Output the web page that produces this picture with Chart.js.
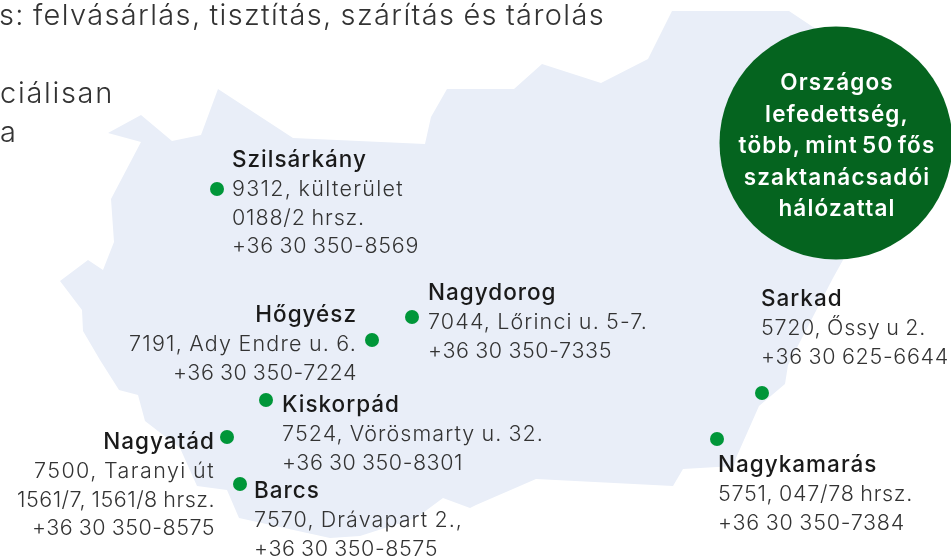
<!DOCTYPE html>
<html>
<head>
<meta charset="utf-8">
<title>Országos lefedettség</title>
<script src="https://cdn.jsdelivr.net/npm/chart.js@4"></script>
<style>
    html, body { margin: 0; padding: 0; background: #fff; overflow: hidden; }
    #map-chart { display: block; }
</style>
</head>
<body>
<canvas id="map-chart" width="951" height="558"></canvas>
<script>
// Country outline
const outlineX = [108, 141, 172, 201, 218, 293, 425, 431, 447, 514, 542, 601, 648, 672, 789, 822, 852, 852, 843, 833, 788, 785, 759, 736, 734, 683, 673, 536, 476, 470, 443, 416, 360, 330, 239, 227, 197, 180, 145, 138, 119, 100, 83, 82, 60, 88, 103, 114, 111, 141, 108];
const outlineY = [133, 115, 141, 135, 89, 138, 144, 117, 89, 89, 64, 83, 59, 11, 11, 33, 60, 240, 260, 278, 365, 384, 406, 458, 466, 469, 486, 479, 505, 508, 498, 518, 536, 538, 518, 490, 486, 448, 421, 395, 390, 360, 331, 310, 281, 260, 270, 242, 199, 142, 133];

// Sites
const siteNames = ['Szilsárkány', 'Nagydorog', 'Hőgyész', 'Kiskorpád', 'Nagyatád', 'Barcs', 'Sarkad', 'Nagykamarás'];
const siteX = [217, 412, 372, 266, 227, 240, 762, 717];
const siteY = [189, 317, 340, 400, 437, 484, 393, 439];
const siteDetails = [
    ['9312, külterület', '0188/2 hrsz.', '+36 30 350-8569'],
    ['7044, Lőrinci u. 5-7.', '+36 30 350-7335'],
    ['7191, Ady Endre u. 6.', '+36 30 350-7224'],
    ['7524, Vörösmarty u. 32.', '+36 30 350-8301'],
    ['7500, Taranyi út', '1561/7, 1561/8 hrsz.', '+36 30 350-8575'],
    ['7570, Drávapart 2.,', '+36 30 350-8575'],
    ['5720, Őssy u 2.', '+36 30 625-6644'],
    ['5751, 047/78 hrsz.', '+36 30 350-7384']
];
// Measured line widths, the installed font runs narrower than the original
const detailWidths = [
    [172, 133, 187],
    [220, 184],
    [228, 184],
    [262, 181],
    [181, 198, 183],
    [209, 184],
    [165, 188],
    [195, 187]
];

// Where each site's text block starts: anchor x, first baseline y, alignment
const labelX = [232, 428, 357, 282, 215, 254, 761, 718];
const labelY = [167, 300, 322, 412, 449, 498, 306, 472];
const labelAlign = ['left', 'left', 'right', 'left', 'right', 'left', 'left', 'left'];

// Badge
const badgeX = [836];
const badgeY = [143];
const badgeLines = ['Országos', 'lefedettség,', 'több, mint 50 fős', 'szaktanácsadói', 'hálózattal'];

// Text cut off at the top left of the picture
const headerLines = ['s: felvásárlás, tisztítás, szárítás és tárolás', 'ciálisan', 'a'];
const headerX = [605, 114, 16];
const headerY = [25, 103, 142];
const headerWidths = [606, 114, 16];

const fontFamily = 'Inter, "Noto Sans", sans-serif';

function setText(ctx, weight, size, spacing, wordGap, color, align) {
    ctx.font = weight + ' ' + size + 'px ' + fontFamily;
    ctx.letterSpacing = spacing + 'px';
    ctx.wordSpacing = wordGap + 'px';
    ctx.fillStyle = color;
    ctx.textAlign = align;
    ctx.textBaseline = 'alphabetic';
}

// Draw one line stretched to a given width with letter spacing
function fillFitted(ctx, line, px, py, width) {
    ctx.letterSpacing = '0px';
    const spacing = (width - ctx.measureText(line).width) / line.length;
    ctx.letterSpacing = spacing + 'px';
    ctx.fillText(line, px, py);
}

// Draws all the labels through the chart's scales
const labelPlugin = {
    id: 'mapLabels',
    afterDatasetsDraw(chart) {
        const ctx = chart.ctx;
        const x = chart.scales.x;
        const y = chart.scales.y;
        ctx.save();

        headerLines.forEach((line, i) => {
            setText(ctx, 300, 29, 0, -1.5, '#333', 'right');
            fillFitted(ctx, line, x.getPixelForValue(headerX[i]), y.getPixelForValue(headerY[i]), headerWidths[i]);
        });

        siteNames.forEach((name, i) => {
            const px = x.getPixelForValue(labelX[i]);
            setText(ctx, 500, 22.5, 1, 0, '#1a1a1a', labelAlign[i]);
            ctx.fillText(name, px, y.getPixelForValue(labelY[i]));
            setText(ctx, 300, 21.5, 0, -1, '#333', labelAlign[i]);
            siteDetails[i].forEach((line, j) => {
                fillFitted(ctx, line, px, y.getPixelForValue(labelY[i] + 28.8 * (j + 1)), detailWidths[i][j]);
            });
        });

        setText(ctx, 600, 22.5, 1.15, -2.5, '#fff', 'center');
        badgeLines.forEach((line, i) => {
            ctx.fillText(line, x.getPixelForValue(badgeX[0] + 1), y.getPixelForValue(90 + 31.6 * i));
        });
        ctx.restore();
    }
};

const mapChart = new Chart(document.getElementById('map-chart').getContext('2d'), {
    type: 'scatter',
    data: {
        datasets: [
            {
                label: 'Országos lefedettség',
                data: badgeX.map((v, i) => ({ x: v, y: badgeY[i] })),
                backgroundColor: '#05641f',
                borderWidth: 0,
                pointRadius: 116.5,
                clip: false,
                order: 1
            },
            {
                label: 'Telephelyek',
                data: siteNames.map((n, i) => ({ x: siteX[i], y: siteY[i] })),
                backgroundColor: '#009639',
                borderWidth: 0,
                pointRadius: 7,
                order: 2
            },
            {
                label: 'Magyarország',
                data: outlineX.map((v, i) => ({ x: v, y: outlineY[i] })),
                showLine: true,
                fill: 'shape',
                backgroundColor: '#e9eef8',
                borderWidth: 0,
                pointRadius: 0,
                tension: 0,
                order: 3
            }
        ]
    },
    options: {
        responsive: false,
        animation: false,
        layout: { padding: 0, autoPadding: false },
        plugins: {
            legend: { display: false },
            title: { display: false },
            tooltip: { enabled: false }
        },
        scales: {
            x: { type: 'linear', display: false, min: 0, max: 951 },
            y: { type: 'linear', display: false, reverse: true, min: 0, max: 558 }
        }
    },
    plugins: [labelPlugin]
});
</script>
</body>
</html>
